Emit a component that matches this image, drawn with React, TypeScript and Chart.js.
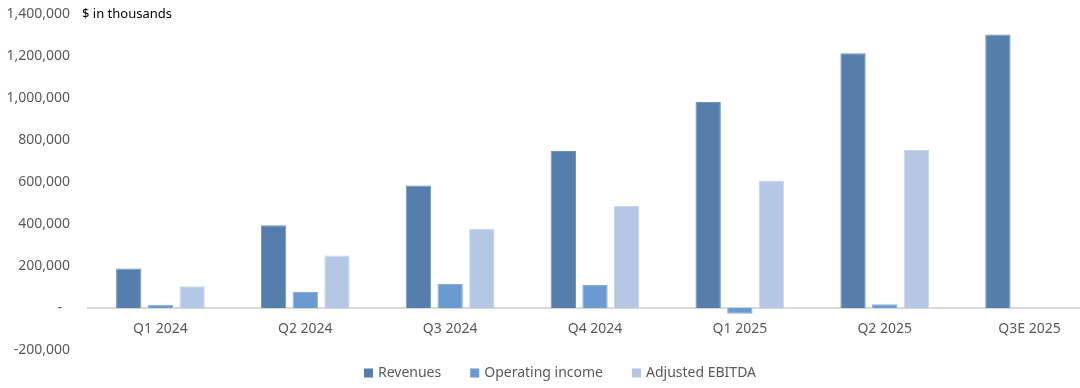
import React, { useEffect, useRef } from "react";
import { Chart, registerables } from "chart.js";

Chart.register(...registerables);

const categories = ["Q1 2024", "Q2 2024", "Q3 2024", "Q4 2024", "Q1 2025", "Q2 2025", "Q3E 2025"];
const revenues = [188000, 394000, 583000, 748000, 981000, 1213000, 1302000];
const operatingIncome = [16000, 76000, 114000, 110000, -27000, 18000, null];
const adjustedEbitda = [103000, 250000, 376000, 486000, 607000, 752000, null];
const seriesLabels = ["Revenues", "Operating income", "Adjusted EBITDA"];
const seriesColors = ["#557EAD", "#6A9BD0", "#B4C7E5"];
const seriesBorders = ["#6F92BC", "#86AEDA", "#C8D6EC"];
const yMin = -200000;
const yMax = 1400000;
const yStep = 200000;
const unitNote = "$ in thousands";

const FONT = '"Noto Sans", "Open Sans", sans-serif';

const notePlugin = {
  id: "unitNote",
  afterDraw(chart: any) {
    const ctx = chart.ctx;
    ctx.save();
    ctx.font = `13px ${FONT}`;
    ctx.fillStyle = "#000000";
    ctx.textAlign = "left";
    ctx.textBaseline = "middle";
    ctx.fillText(unitNote, 82, chart.scales.y.getPixelForValue(yMax));
    ctx.restore();
  },
};

const legendPlugin = {
  id: "customLegend",
  afterDraw(chart: any) {
    const ctx = chart.ctx;
    ctx.save();
    ctx.font = `14px ${FONT}`;
    const box = 9;
    const boxGap = 5;
    const itemGap = 29;
    const cy = 373;
    const items = chart.data.datasets.map((ds: any) => ({
      text: ds.label as string,
      color: ds.backgroundColor as string,
      w: ctx.measureText(ds.label).width,
    }));
    const total =
      items.reduce((s: number, it: any) => s + box + boxGap + it.w, 0) + itemGap * (items.length - 1);
    let x = 560 - total / 2;
    ctx.textBaseline = "middle";
    ctx.textAlign = "left";
    for (const it of items) {
      ctx.fillStyle = it.color;
      ctx.fillRect(x, cy - box / 2, box, box);
      x += box + boxGap;
      ctx.fillStyle = "#595959";
      ctx.fillText(it.text, x, cy);
      x += it.w + itemGap;
    }
    ctx.restore();
  },
};

export default function App() {
  const ref = useRef<HTMLCanvasElement>(null);

  useEffect(() => {
    if (!ref.current) return;
    const seriesData = [revenues, operatingIncome, adjustedEbitda];
    const chart = new Chart(ref.current, {
      type: "bar",
      data: {
        labels: categories,
        datasets: seriesData.map((d, i) => ({
          label: seriesLabels[i],
          data: d as any,
          backgroundColor: seriesColors[i],
          borderColor: seriesBorders[i],
          borderWidth: 1,
          categoryPercentage: 0.656,
          barPercentage: 0.8,
        })),
      },
      options: {
        animation: false,
        responsive: false,
        devicePixelRatio: 1,
        layout: { padding: { top: 14, bottom: 38, left: 0, right: 0 } },
        plugins: {
          legend: { display: false },
          tooltip: { enabled: false },
        },
        scales: {
          x: {
            type: "category",
            position: { y: 0 } as any,
            grid: { display: false, drawTicks: false },
            border: { display: true, color: "#D9D9D9", width: 2 },
            ticks: {
              color: "#595959",
              font: { family: FONT, size: 14 },
              padding: 13,
              maxRotation: 0,
              autoSkip: false,
            },
          },
          y: {
            type: "linear",
            position: "left",
            min: yMin,
            max: yMax,
            grid: { display: false, drawTicks: true, tickLength: 18 },
            border: { display: false },
            afterFit(scale: any) {
              scale.width = 88;
            },
            ticks: {
              stepSize: yStep,
              color: "#595959",
              font: { family: FONT, size: 14 },
              padding: 0,
              callback: (v: any) => (Number(v) === 0 ? "-\u2007" : Number(v).toLocaleString("en-US")),
            },
          },
        },
      },
      plugins: [notePlugin, legendPlugin],
    });
    return () => chart.destroy();
  }, []);

  return (
    <div style={{ position: "absolute", left: 0, top: 0, width: 1080, height: 388, overflow: "hidden", background: "#fff" }}>
      <canvas ref={ref} width={1102} height={388} style={{ width: 1102, height: 388, display: "block" }} />
    </div>
  );
}
